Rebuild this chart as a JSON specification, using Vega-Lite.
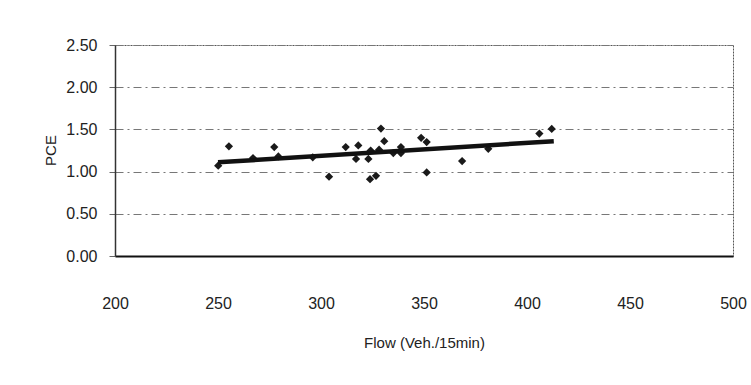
{
  "$schema": "https://vega.github.io/schema/vega-lite/v6.json",
  "width": 618,
  "height": 211,
  "autosize": {"type": "none"},
  "padding": {"left": 115, "top": 45, "right": 18, "bottom": 129},
  "background": "#ffffff",
  "config": {
    "font": "Liberation Sans",
    "view": {"stroke": "#555555", "strokeWidth": 1, "strokeDash": [2, 1]},
    "axis": {"labelFont": "Liberation Sans", "titleFont": "Liberation Sans", "labelColor": "#222222", "titleColor": "#222222", "titleFontWeight": "normal"}
  },
  "datasets": {
    "points": [
      {"flow": 250.1, "pce": 1.07},
      {"flow": 255.3, "pce": 1.30},
      {"flow": 267.0, "pce": 1.16},
      {"flow": 277.3, "pce": 1.29},
      {"flow": 279.3, "pce": 1.18},
      {"flow": 296.0, "pce": 1.17},
      {"flow": 303.9, "pce": 0.94},
      {"flow": 312.0, "pce": 1.29},
      {"flow": 317.0, "pce": 1.15},
      {"flow": 318.1, "pce": 1.31},
      {"flow": 323.0, "pce": 1.15},
      {"flow": 323.8, "pce": 0.91},
      {"flow": 324.1, "pce": 1.25},
      {"flow": 326.7, "pce": 0.95},
      {"flow": 328.2, "pce": 1.26},
      {"flow": 329.1, "pce": 1.51},
      {"flow": 330.7, "pce": 1.36},
      {"flow": 335.1, "pce": 1.22},
      {"flow": 338.8, "pce": 1.29},
      {"flow": 338.8, "pce": 1.22},
      {"flow": 348.6, "pce": 1.40},
      {"flow": 351.3, "pce": 1.35},
      {"flow": 351.3, "pce": 0.99},
      {"flow": 368.5, "pce": 1.125},
      {"flow": 381.2, "pce": 1.27},
      {"flow": 406.0, "pce": 1.45},
      {"flow": 412.0, "pce": 1.505}
    ],
    "fit": [
      {"flow": 250.0, "pce": 1.11},
      {"flow": 413.0, "pce": 1.36}
    ]
  },
  "layer": [
    {
      "data": {"name": "points"},
      "mark": {"type": "point", "shape": "diamond", "filled": true, "color": "#1a1a1a", "size": 68, "opacity": 1},
      "encoding": {
        "x": {
          "field": "flow", "type": "quantitative",
          "scale": {"domain": [200, 500], "nice": false, "zero": false},
          "axis": {
            "values": [200, 250, 300, 350, 400, 450, 500],
            "title": "Flow (Veh./15min)",
            "titleFontSize": 15,
            "titleBaseline": "middle",
            "titleY": 86,
            "labelFontSize": 16,
            "labelPadding": 39,
            "labelFlush": false,
            "ticks": false,
            "grid": false,
            "domainColor": "#111111",
            "domainWidth": 2
          }
        },
        "y": {
          "field": "pce", "type": "quantitative",
          "scale": {"domain": [0, 2.5], "nice": false},
          "axis": {
            "values": [0, 0.5, 1.0, 1.5, 2.0, 2.5],
            "format": ".2f",
            "title": "PCE",
            "titleFontSize": 15,
            "titleAngle": -90,
            "titleX": -65,
            "titleY": 105,
            "titleAlign": "center",
            "titleBaseline": "middle",
            "labelFontSize": 16,
            "labelPadding": 12,
            "tickSize": 6,
            "tickColor": "#666666",
            "grid": true,
            "gridColor": "#777777",
            "gridDash": [8, 4, 2, 4],
            "gridWidth": 1,
            "domainColor": "#333333",
            "domainWidth": 1.5
          }
        }
      }
    },
    {
      "data": {"name": "fit"},
      "mark": {"type": "line", "color": "#111111", "strokeWidth": 4.5},
      "encoding": {
        "x": {"field": "flow", "type": "quantitative"},
        "y": {"field": "pce", "type": "quantitative"}
      }
    }
  ]
}
